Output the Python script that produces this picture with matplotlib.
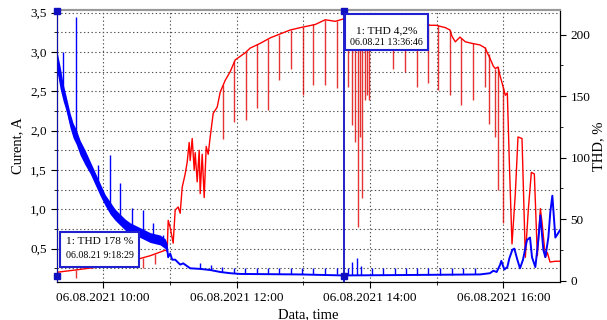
import matplotlib
matplotlib.use('Agg')
import matplotlib.pyplot as plt
import matplotlib.patches as patches
import matplotlib.transforms as mtransforms
from matplotlib.ticker import MultipleLocator, FixedLocator, FuncFormatter

plt.rcParams['font.family'] = ['Liberation Serif', 'DejaVu Serif']

###########################
# data (time in hours of 06.08.2021)
###########################

# current, A (left axis, red)
cur_t = [9.31, 9.595, 9.955, 10.405, 10.705, 10.93, 10.96, 10.975, 11.005, 11.05, 11.08, 11.125,
         11.155, 11.185, 11.23, 11.26, 11.29, 11.305, 11.335, 11.365, 11.38, 11.41, 11.44, 11.455,
         11.485, 11.515, 11.545, 11.575, 11.605, 11.65, 11.71, 11.755, 11.83, 11.905, 11.98, 12.13,
         12.205, 12.355, 12.505, 12.655, 12.805, 12.955, 13.18, 13.33, 13.48, 13.60, 13.85, 14.15,
         14.45, 14.83, 14.90, 14.99, 15.13, 15.20, 15.23, 15.28, 15.35, 15.43, 15.53, 15.65, 15.73,
         15.76, 15.80, 15.85, 15.88, 15.92, 15.95, 15.98, 16.03, 16.06, 16.09, 16.13, 16.18, 16.22,
         16.28, 16.33, 16.375, 16.42, 16.465, 16.51, 16.555, 16.585, 16.63, 16.66, 16.70, 16.78, 16.85]
cur_a = [0.20, 0.23, 0.27, 0.34, 0.41, 0.48, 0.47, 0.86, 0.77, 0.57, 0.99, 1.03,
         0.95, 1.28, 1.45, 1.60, 1.85, 1.62, 1.90, 1.50, 1.72, 1.35, 1.75, 1.20,
         1.70, 1.15, 1.80, 1.70, 1.92, 2.22, 2.30, 2.49, 2.64, 2.75, 2.90, 2.99,
         3.05, 3.11, 3.18, 3.23, 3.28, 3.31, 3.35, 3.41, 3.39, 3.42, 3.42, 3.40,
         3.38, 3.37, 3.34, 3.34, 3.31, 3.28, 3.20, 3.13, 3.19, 3.13, 3.11, 3.09, 3.05,
         2.99, 2.92, 2.82, 2.79, 2.81, 2.70, 2.61, 2.45, 2.48, 1.60, 0.56, 1.20, 1.92,
         1.90, 0.39, 1.00, 1.47, 1.45, 0.41, 1.01, 0.80, 0.39, 0.45, 0.33, 0.34, 0.34]

# current dips
dip_t = [9.595, 10.60, 10.78, 11.80, 11.96, 12.14, 12.31, 12.475, 12.64, 12.82, 13.00, 13.15,
         13.33, 13.51, 13.67, 13.73, 13.78, 13.82, 13.85, 13.88, 13.93, 13.96, 13.99, 14.03,
         14.15, 14.35, 14.53, 14.71, 14.87, 15.02, 15.20, 15.37, 15.55, 15.72, 15.78, 15.88,
         15.92, 16.00]
dip_lo = [0.13, 0.26, 0.30, 1.90, 2.11, 2.14, 2.29, 2.26, 2.64, 2.79, 2.45, 2.58,
          2.58, 2.54, 2.56, 2.07, 1.85, 0.77, 1.92, 1.14, 2.39, 2.45, 2.39, 3.03,
          3.05, 2.79, 2.75, 2.56, 2.61, 2.52, 2.45, 2.33, 2.39, 2.56, 2.09, 1.92,
          1.24, 0.82]
dip_hi = [0.23, 0.38, 0.43, 2.58, 2.88, 3.00, 3.10, 3.17, 3.22, 3.28, 3.32, 3.35,
          3.41, 3.40, 3.42, 3.42, 3.42, 3.42, 3.42, 3.42, 3.42, 3.42, 3.42, 3.42,
          3.41, 3.40, 3.39, 3.38, 3.36, 3.34, 3.28, 3.18, 3.11, 3.06, 2.97, 2.79,
          2.81, 2.55]

# THD, % (right axis, blue)
thd_t = [9.31, 9.355, 9.40, 9.445, 9.505, 9.55, 9.595, 9.655, 9.73, 9.805, 9.88, 9.955,
         10.03, 10.105, 10.18, 10.255, 10.33, 10.405, 10.555, 10.705, 10.855, 10.93, 10.96,
         10.975, 11.005, 11.035, 11.08, 11.155, 11.20, 11.305, 11.455, 11.605, 11.755, 11.905,
         12.055, 12.955, 13.60, 14.45, 15.65, 15.80, 15.85, 15.90, 15.95, 15.97, 16.015, 16.06,
         16.09, 16.135, 16.165, 16.21, 16.25, 16.295, 16.355, 16.40, 16.43, 16.48, 16.525,
         16.555, 16.60, 16.63, 16.675, 16.705, 16.735, 16.78, 16.85]
thd_v = [178, 165, 153, 144, 130, 122, 117, 108, 100, 92, 83, 74,
         65, 59, 53, 49, 45, 43, 39, 35, 33, 30, 26,
         19, 22, 17, 17, 13, 14, 10, 9.5, 8.6, 7, 6,
         5.4, 5, 4.2, 4.5, 5, 6, 8, 7, 12.6, 16, 9, 11,
         18, 25, 26, 17, 10, 17, 33, 35, 19, 11, 33,
         53, 25, 19, 35, 56, 69, 35, 41]

# noisy band of the morning THD
band_t = [9.31, 9.355, 9.40, 9.445, 9.505, 9.55, 9.595, 9.655, 9.73, 9.805, 9.88, 9.955,
          10.03, 10.105, 10.18, 10.255, 10.33, 10.405, 10.555, 10.705, 10.855, 10.93, 10.96]
band_hi = [186, 174, 160, 150, 136, 128, 123, 114, 106, 97, 88, 79,
           70, 64, 58, 54, 50, 47, 43, 39, 37, 34, 30]
band_lo = [170, 156, 146, 138, 124, 116, 111, 102, 94, 87, 78, 69,
           61, 54, 49, 45, 41, 39, 35, 31, 29, 26, 22]

# THD spikes
spk_t = [9.40, 9.595, 9.925, 10.105, 10.255, 10.435, 10.60, 10.75, 10.90,
         11.455, 11.62, 11.785, 11.965, 12.13, 12.31, 12.475, 12.64, 12.82, 12.985, 13.15,
         13.33, 13.51, 13.675, 13.735, 13.81, 13.87, 14.03, 14.195, 14.375, 14.54, 14.705,
         14.87, 15.05, 15.23, 15.395, 15.575]
spk_lo = [153, 117, 77, 59, 49, 42, 38, 34, 31,
          9.5, 8.6, 7, 6, 5.4, 5, 5, 5, 5, 5, 5,
          5, 5, 4.5, 4.5, 4.5, 4.5, 4.5, 4.5, 4.5, 4.5, 4.5,
          4.5, 4.8, 4.8, 5, 5]
spk_hi = [186, 214, 94, 102, 79, 59, 57, 47, 37,
          14, 13, 11, 10, 10, 10, 10, 10, 10, 10, 10,
          10, 10, 10, 15, 18, 12, 10, 10, 10, 10, 10,
          10, 10, 10, 10, 10]

cursor_t = [9.308, 13.613]
xtick_hours = [10, 12, 14, 16]
xtick_labels = ['06.08.2021 10:00', '06.08.2021 12:00', '06.08.2021 14:00', '06.08.2021 16:00']

###########################
# plot
###########################

fig = plt.figure(figsize=(6.07, 3.2), dpi=100)
ax = fig.add_axes([0.0939, 0.1197, 0.8287, 0.8490])
ax2 = ax.twinx()

ax.plot(cur_t, cur_a, color='#ff0000', lw=1.0, zorder=3)
ax.vlines(dip_t, dip_lo, dip_hi, colors='#e00000', lw=1.0, alpha=0.8, zorder=3)

ax2.fill_between(band_t, band_lo, band_hi, color='#0000ff', lw=0, zorder=2)
ax2.plot(thd_t, thd_v, color='#0000ff', lw=1.4, zorder=3)
ax2.vlines(spk_t, spk_lo, spk_hi, colors='#0000ff', lw=1.0, zorder=3)

# cursors
for ct in cursor_t:
    ax2.axvline(ct, color='#1010c0', lw=1.3, zorder=4)
trans = mtransforms.blended_transform_factory(ax2.transData, ax2.transAxes)
ax2.plot(cursor_t, [0.995, 0.995], 's', color='#1010c0', ms=4, transform=trans, clip_on=False, zorder=5)
ax2.plot(cursor_t, [0.02, 0.02], 's', color='#1010c0', ms=4, transform=trans, clip_on=False, zorder=5)

# axes
ax.set_xlim(9.308, 16.85)
ax.set_ylim(0.08, 3.534)
ax2.set_ylim(-0.9, 220)

ax.xaxis.set_major_locator(FixedLocator(xtick_hours))
ax.set_xticklabels(xtick_labels)
ax.xaxis.set_minor_locator(MultipleLocator(1))
ax.yaxis.set_major_locator(MultipleLocator(0.5))
ax.yaxis.set_minor_locator(MultipleLocator(0.25))
ax.yaxis.set_major_formatter(FuncFormatter(lambda v, p: ('%.1f' % v).replace('.', ',')))
ax2.yaxis.set_major_locator(MultipleLocator(50))
ax2.yaxis.set_minor_locator(MultipleLocator(25))

ax.grid(True, which='both', ls=(0, (1.2, 2.2)), color='#505050', lw=0.8)
ax.set_axisbelow(True)

ax.tick_params(labelsize=9.5, length=4, direction='out')
ax.tick_params(which='minor', length=2)
ax2.tick_params(labelsize=9.5, length=4, direction='out')
ax2.tick_params(which='minor', length=2)

ax.set_xlabel('Data, time', fontsize=10.5, labelpad=3)
ax.set_ylabel('Curent, A', fontsize=10.5, labelpad=4)
ax2.set_ylabel('THD, %', fontsize=10.5, labelpad=1.5)

for a in (ax, ax2):
    a.spines['top'].set_color('#999999')
    a.spines['top'].set_linewidth(1.5)

# annotation boxes
boxes = [
    ((0.006, 0.054, 0.157, 0.129), 0.0845, (0.147, 0.098), '1: THD 178 %', '06.08.21 9:18:29'),
    ((0.573, 0.852, 0.165, 0.133), 0.655, (0.922, 0.880), '1: THD 4,2%', '06.08.21 13:36:46'),
]
for (bx, by, bw, bh), cx, (y1, y2), line1, line2 in boxes:
    ax2.add_patch(patches.Rectangle((bx, by), bw, bh, transform=ax2.transAxes, facecolor='white',
                                    edgecolor='#2020d0', lw=1.5, zorder=6))
    ax2.text(cx, y1, line1, transform=ax2.transAxes, ha='center', va='center', fontsize=8.2, zorder=7)
    ax2.text(cx, y2, line2, transform=ax2.transAxes, ha='center', va='center', fontsize=7.2, zorder=7)

fig.savefig('out.png', dpi=100)
